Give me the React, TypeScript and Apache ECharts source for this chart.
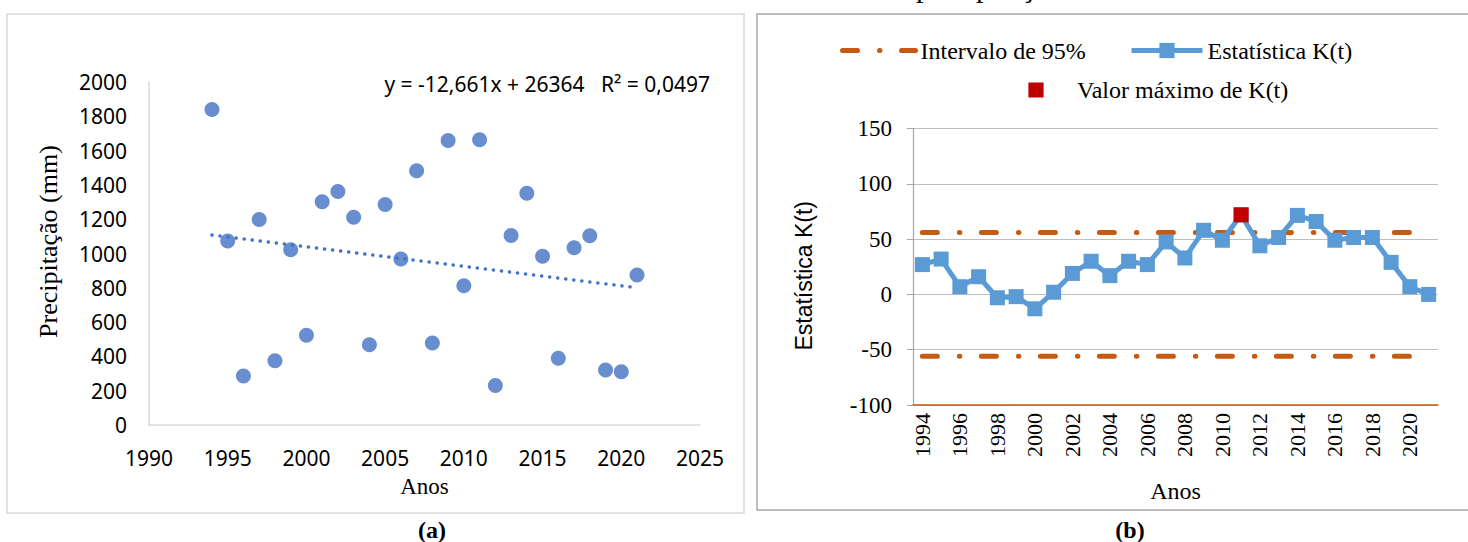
import React, { useEffect, useRef } from "react";
import * as echarts from "echarts";

// ---- Data: (a) annual precipitation ----
const precipYears = [1994, 1995, 1996, 1997, 1998, 1999, 2000, 2001, 2002, 2003, 2004, 2005, 2006, 2007, 2008, 2009, 2010, 2011, 2012, 2013, 2014, 2015, 2016, 2017, 2018, 2019, 2020, 2021];
const precipValues = [1839, 1073, 286, 1198, 375, 1022, 524, 1302, 1361, 1212, 468, 1286, 968, 1482, 478, 1659, 812, 1663, 230, 1105, 1351, 984, 389, 1034, 1103, 321, 310, 875];
const trendLabel = "y = -12,661x + 26364   R² = 0,0497";

// ---- Data: (b) Pettitt statistic ----
const kYears = ["1994", "1995", "1996", "1997", "1998", "1999", "2000", "2001", "2002", "2003", "2004", "2005", "2006", "2007", "2008", "2009", "2010", "2011", "2012", "2013", "2014", "2015", "2016", "2017", "2018", "2019", "2020", "2021"];
const kValues = [27, 32, 7, 16, -3, -2, -13, 2, 19, 30, 17, 30, 27, 47.5, 33, 58, 49, 72, 44, 51.5, 71.5, 66, 49, 51.5, 51.5, 29, 7, 0];
const kCritical = 56;
const kMaxYear = "2011";

const SERIF = "'Liberation Serif', 'Times New Roman', serif";
const SANS = "'Noto Sans', sans-serif";
const ARIAL = "'Liberation Sans', Arial, sans-serif";

function linReg(xs: number[], ys: number[]) {
  const n = xs.length;
  const mx = xs.reduce((a, b) => a + b, 0) / n;
  const my = ys.reduce((a, b) => a + b, 0) / n;
  let sxy = 0, sxx = 0;
  for (let i = 0; i < n; i++) {
    sxy += (xs[i] - mx) * (ys[i] - my);
    sxx += (xs[i] - mx) * (xs[i] - mx);
  }
  const b = sxy / sxx;
  return { b, a: my - b * mx };
}

const plain = (v: number) => String(v);

export default function App() {
  const ref = useRef<HTMLDivElement>(null);
  useEffect(() => {
    if (!ref.current) return;
    const chart = echarts.init(ref.current, undefined, { renderer: "svg" });
    const reg = linReg(precipYears, precipValues);
    const x0 = precipYears[0];
    const x1 = precipYears[precipYears.length - 1];
    const trend = [[x0, reg.a + reg.b * x0], [x1, reg.a + reg.b * x1]];
    const upper = kYears.map(() => kCritical);
    const lower = kYears.map(() => -kCritical);
    const maxData = kYears.map((y, i) => (y === kMaxYear ? kValues[i] : "-"));
    const dash = [15, 22, 0.5, 21.5];

    chart.setOption({
      animation: false,
      backgroundColor: "#ffffff",
      graphic: [
        { type: "rect", shape: { x: 7, y: 14, width: 737, height: 499 }, style: { fill: "none", stroke: "#d9d9d9", lineWidth: 1.5 }, z: 0 },
        { type: "rect", shape: { x: 757, y: 14, width: 730, height: 496 }, style: { fill: "none", stroke: "#a6a6a6", lineWidth: 1.5 }, z: 0 },
        { type: "text", x: 916, y: -14, style: { text: "precipitação", font: `30px ${SERIF}`, fill: "#000", textAlign: "left", textVerticalAlign: "middle" } },
        { type: "text", x: 432, y: 530, style: { text: "(a)", font: `bold 24px ${SERIF}`, fill: "#000", textAlign: "center", textVerticalAlign: "middle" } },
        { type: "text", x: 1130, y: 530, style: { text: "(b)", font: `bold 24px ${SERIF}`, fill: "#000", textAlign: "center", textVerticalAlign: "middle" } },
        { type: "text", x: 710, y: 84, style: { text: trendLabel, font: `21px ${SANS}`, fill: "#000", textAlign: "right", textVerticalAlign: "middle" } },
      ],
      legend: [
        {
          data: ["Intervalo de 95%"], left: 840, top: 38.5, padding: 0, itemWidth: 73, itemHeight: 19,
          lineStyle: { width: 5 }, itemStyle: { opacity: 0 },
          textStyle: { fontFamily: SERIF, fontSize: 24, color: "#000" },
        },
        {
          data: ["Estatística K(t)"], left: 1129, top: 38.5, padding: 0, itemWidth: 71, itemHeight: 19,
          lineStyle: { width: 5 },
          textStyle: { fontFamily: SERIF, fontSize: 24, color: "#000" },
        },
        {
          data: ["Valor máximo de K(t)"], left: 1000, top: 78, padding: 0, itemWidth: 72, itemHeight: 19,
          lineStyle: { width: 0, opacity: 0 },
          textStyle: { fontFamily: SERIF, fontSize: 24, color: "#000" },
        },
      ],
      grid: [
        { left: 149, top: 82, width: 551, height: 343 },
        { left: 913, top: 128.6, width: 525, height: 276.4 },
      ],
      xAxis: [
        {
          gridIndex: 0, type: "value", min: 1990, max: 2025, interval: 5,
          axisLine: { show: true, onZero: false, lineStyle: { color: "#d9d9d9", width: 1.5 } },
          axisTick: { show: false }, splitLine: { show: false },
          axisLabel: { fontFamily: SANS, fontSize: 21, color: "#000", margin: 22, formatter: plain },
          name: "Anos", nameLocation: "middle", nameGap: 50,
          nameTextStyle: { fontFamily: SERIF, fontSize: 23, color: "#000" },
        },
        {
          gridIndex: 1, type: "category", data: kYears, boundaryGap: true,
          axisLine: { show: true, onZero: false, lineStyle: { color: "#C55A11", width: 1.5 } },
          axisTick: { show: false }, splitLine: { show: false },
          axisLabel: { interval: 1, rotate: 90, fontFamily: SERIF, fontSize: 22, color: "#000", margin: 8 },
          name: "Anos", nameLocation: "middle", nameGap: 74,
          nameTextStyle: { fontFamily: SERIF, fontSize: 24, color: "#000" },
        },
      ],
      yAxis: [
        {
          gridIndex: 0, type: "value", min: 0, max: 2000, interval: 200,
          axisLine: { show: true, lineStyle: { color: "#d9d9d9", width: 1.5 } },
          axisTick: { show: false }, splitLine: { show: false },
          axisLabel: { fontFamily: SANS, fontSize: 21, color: "#000", margin: 22, formatter: plain },
          name: "Precipitação (mm)", nameLocation: "middle", nameGap: 88,
          nameTextStyle: { fontFamily: SERIF, fontSize: 26, color: "#000", padding: [0, 0, 0, 24] },
        },
        {
          gridIndex: 1, type: "value", min: -100, max: 150, interval: 50,
          axisLine: { show: true, lineStyle: { color: "#a6a6a6", width: 1.2 } },
          axisTick: { show: true, length: 6, lineStyle: { color: "#a6a6a6" } },
          splitLine: { show: true, lineStyle: { color: "#bfbfbf", width: 1.2 } },
          axisLabel: { fontFamily: SERIF, fontSize: 23, color: "#000", margin: 21 },
          name: "Estatística K(t)", nameLocation: "middle", nameGap: 98,
          nameTextStyle: { fontFamily: ARIAL, fontSize: 23, color: "#000", padding: [0, 18, 0, 0] },
        },
      ],
      series: [
        {
          name: "Precipitação", type: "scatter", xAxisIndex: 0, yAxisIndex: 0,
          data: precipYears.map((y, i) => [y, precipValues[i]]),
          symbolSize: 15, itemStyle: { color: "#4472C4" }, z: 3,
        },
        {
          name: "Linear (Precipitação)", type: "line", xAxisIndex: 0, yAxisIndex: 0,
          data: trend, symbol: "none",
          lineStyle: { color: "#4472C4", width: 3.5, type: [0.1, 8], cap: "round" }, z: 2,
        },
        {
          name: "Intervalo de 95%", type: "line", xAxisIndex: 1, yAxisIndex: 1, data: upper,
          symbol: "none", color: "#C55A11",
          lineStyle: { color: "#C55A11", width: 5, type: dash, cap: "round" }, z: 2,
        },
        {
          name: "Intervalo de 95%", type: "line", xAxisIndex: 1, yAxisIndex: 1, data: lower,
          symbol: "none", color: "#C55A11",
          lineStyle: { color: "#C55A11", width: 5, type: dash, cap: "round" }, z: 2,
        },
        {
          name: "Estatística K(t)", type: "line", xAxisIndex: 1, yAxisIndex: 1, data: kValues,
          symbol: "rect", symbolSize: 15, showAllSymbol: true, color: "#5B9BD5",
          itemStyle: { color: "#5B9BD5" },
          lineStyle: { color: "#5B9BD5", width: 5 }, z: 3,
        },
        {
          name: "Valor máximo de K(t)", type: "line", xAxisIndex: 1, yAxisIndex: 1, data: maxData,
          symbol: "rect", symbolSize: 15, showAllSymbol: true, color: "#C00000",
          itemStyle: { color: "#C00000" },
          lineStyle: { width: 0, opacity: 0 }, z: 4,
        },
      ],
    });
    return () => chart.dispose();
  }, []);
  return (
    <div
      ref={ref}
      style={{ position: "absolute", left: 0, top: 0, width: 1468, height: 542, background: "#fff" }}
    />
  );
}
